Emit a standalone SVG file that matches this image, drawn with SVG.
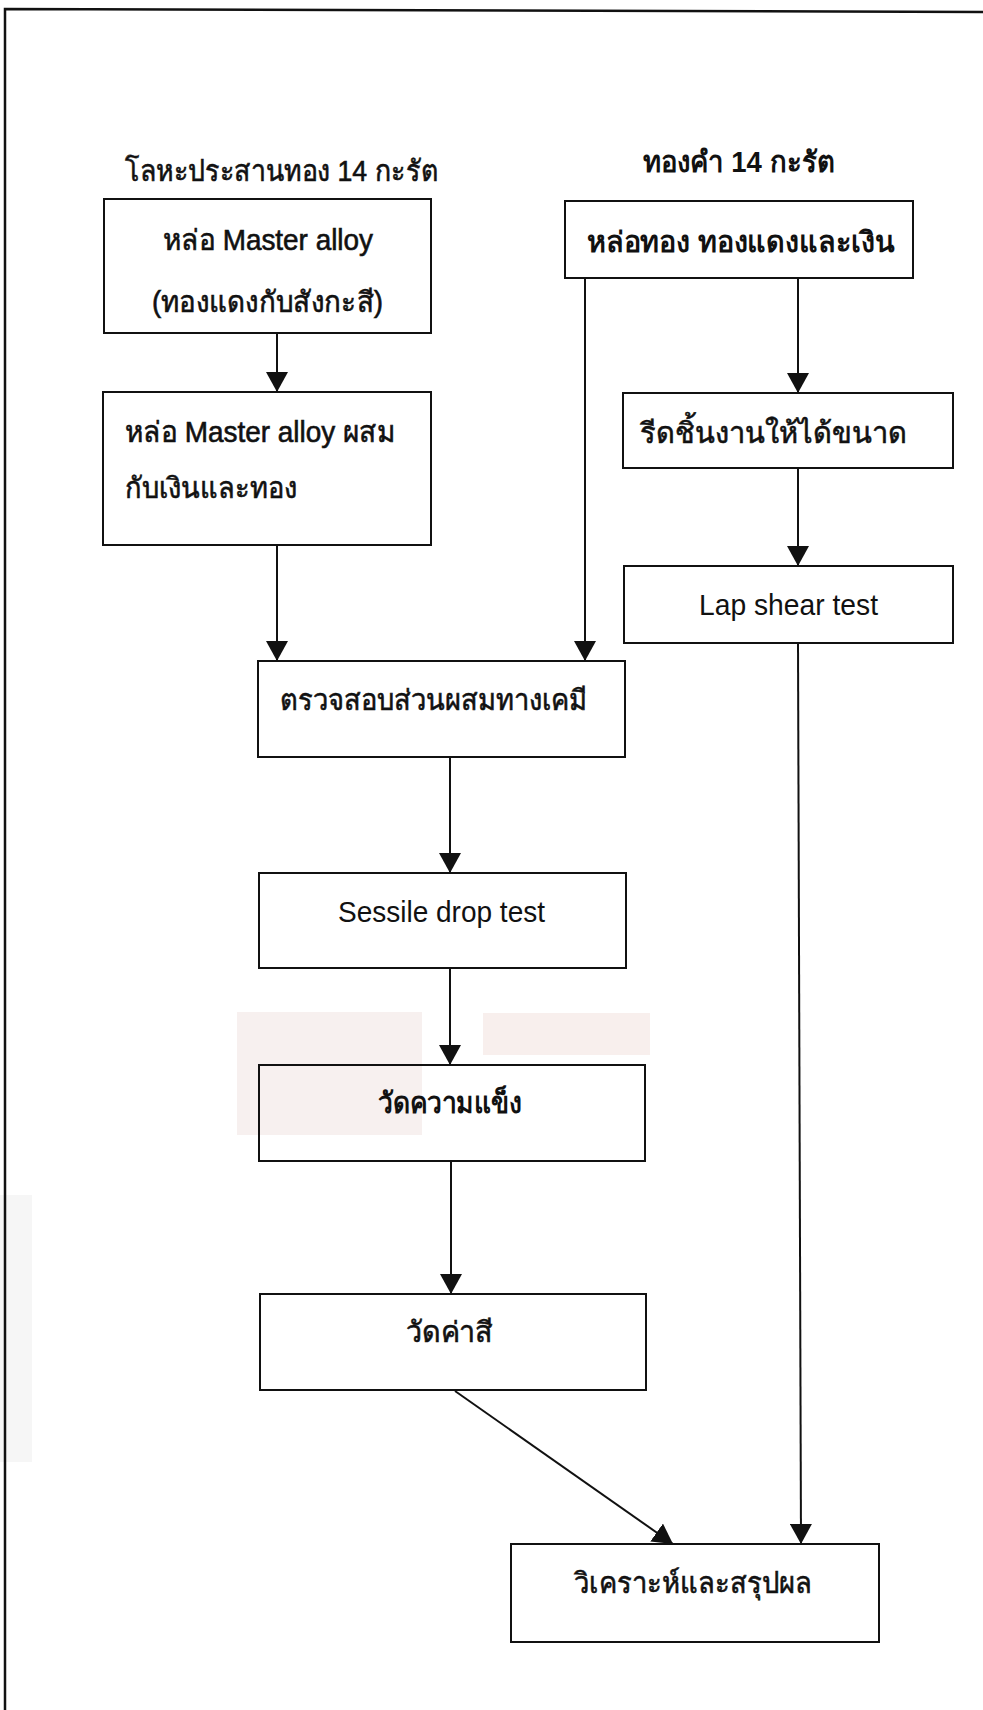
<svg xmlns="http://www.w3.org/2000/svg" width="983" height="1710" viewBox="0 0 983 1710">
<defs>
<marker id="ah" viewBox="0 0 20 22" refX="20" refY="11" markerWidth="20" markerHeight="22" markerUnits="userSpaceOnUse" orient="auto">
<path d="M0,0 L20,11 L0,22 Z" fill="#111"/>
</marker>
<style>
.box{fill:none;stroke:#111;stroke-width:2}
.t{font-family:"Liberation Sans","DejaVu Sans","Noto Sans",sans-serif;font-size:29px;fill:#111}
.b{font-weight:bold}
.m{stroke:#111;stroke-width:0.6}
.c{stroke:#111;stroke-width:2;fill:none;marker-end:url(#ah)}
.frame{stroke:#111;stroke-width:2.5;fill:none}
</style>
</defs>
<rect width="983" height="1710" fill="#fff"/>
<!-- faint scan artifacts -->
<rect x="237" y="1012" width="185" height="123" fill="#f7f0ef"/>
<rect x="483" y="1013" width="167" height="42" fill="#f8efed"/>
<rect x="0" y="1195" width="32" height="267" fill="#f6f6f6"/>
<!-- frame -->
<path class="frame" d="M5,1710 L5,9 L983,12"/>

<g id="title-left"><text class="t m" x="125" y="181" textLength="313" lengthAdjust="spacingAndGlyphs">โลหะประสานทอง 14 กะรัต</text></g>
<g id="title-right"><text class="t b" x="643" y="172" textLength="192" lengthAdjust="spacingAndGlyphs">ทองคำ 14 กะรัต</text></g>

<g id="n1"><rect class="box" x="104" y="199" width="327" height="134"/>
<text class="t m" x="163" y="250" textLength="210" lengthAdjust="spacingAndGlyphs">หล่อ Master alloy</text>
<text class="t m" x="152" y="312" textLength="231" lengthAdjust="spacingAndGlyphs">(ทองแดงกับสังกะสี)</text></g>

<g id="n2"><rect class="box" x="103" y="392" width="328" height="153"/>
<text class="t m" x="125" y="442" textLength="270" lengthAdjust="spacingAndGlyphs">หล่อ Master alloy ผสม</text>
<text class="t m" x="125" y="498" textLength="172" lengthAdjust="spacingAndGlyphs">กับเงินและทอง</text></g>

<g id="n3"><rect class="box" x="565" y="201" width="348" height="77"/>
<text class="t b" x="587" y="252" textLength="308" lengthAdjust="spacingAndGlyphs">หล่อทอง  ทองแดงและเงิน</text></g>

<g id="n5"><rect class="box" x="623" y="393" width="330" height="75"/>
<text class="t m" x="640" y="443" textLength="267" lengthAdjust="spacingAndGlyphs">รีดชิ้นงานให้ได้ขนาด</text></g>

<g id="n6"><rect class="box" x="624" y="566" width="329" height="77"/>
<text class="t" x="699" y="615" textLength="179" lengthAdjust="spacingAndGlyphs">Lap shear test</text></g>

<g id="n4"><rect class="box" x="258" y="661" width="367" height="96"/>
<text class="t m" x="280" y="710" textLength="307" lengthAdjust="spacingAndGlyphs">ตรวจสอบส่วนผสมทางเคมี</text></g>

<g id="n7"><rect class="box" x="259" y="873" width="367" height="95"/>
<text class="t" x="338" y="922" textLength="207" lengthAdjust="spacingAndGlyphs">Sessile drop test</text></g>

<g id="n8"><rect class="box" x="259" y="1065" width="386" height="96"/>
<text class="t b" x="378" y="1113" textLength="144" lengthAdjust="spacingAndGlyphs">วัดความแข็ง</text></g>

<g id="n9"><rect class="box" x="260" y="1294" width="386" height="96"/>
<text class="t m" x="406" y="1342" textLength="87" lengthAdjust="spacingAndGlyphs">วัดค่าสี</text></g>

<g id="n10"><rect class="box" x="511" y="1544" width="368" height="98"/>
<text class="t m" x="574" y="1593" textLength="238" lengthAdjust="spacingAndGlyphs">วิเคราะห์และสรุปผล</text></g>

<g id="connectors">
<line class="c" x1="277" y1="333" x2="277" y2="392"/>
<line class="c" x1="277" y1="545" x2="277" y2="661"/>
<line class="c" x1="585" y1="278" x2="585" y2="661"/>
<line class="c" x1="798" y1="278" x2="798" y2="393"/>
<line class="c" x1="798" y1="468" x2="798" y2="566"/>
<line class="c" x1="798" y1="643" x2="801" y2="1544"/>
<line class="c" x1="450" y1="757" x2="450" y2="873"/>
<line class="c" x1="450" y1="968" x2="450" y2="1065"/>
<line class="c" x1="451" y1="1161" x2="451" y2="1294"/>
<line class="c" x1="455" y1="1391" x2="673" y2="1544"/>
</g>
</svg>
